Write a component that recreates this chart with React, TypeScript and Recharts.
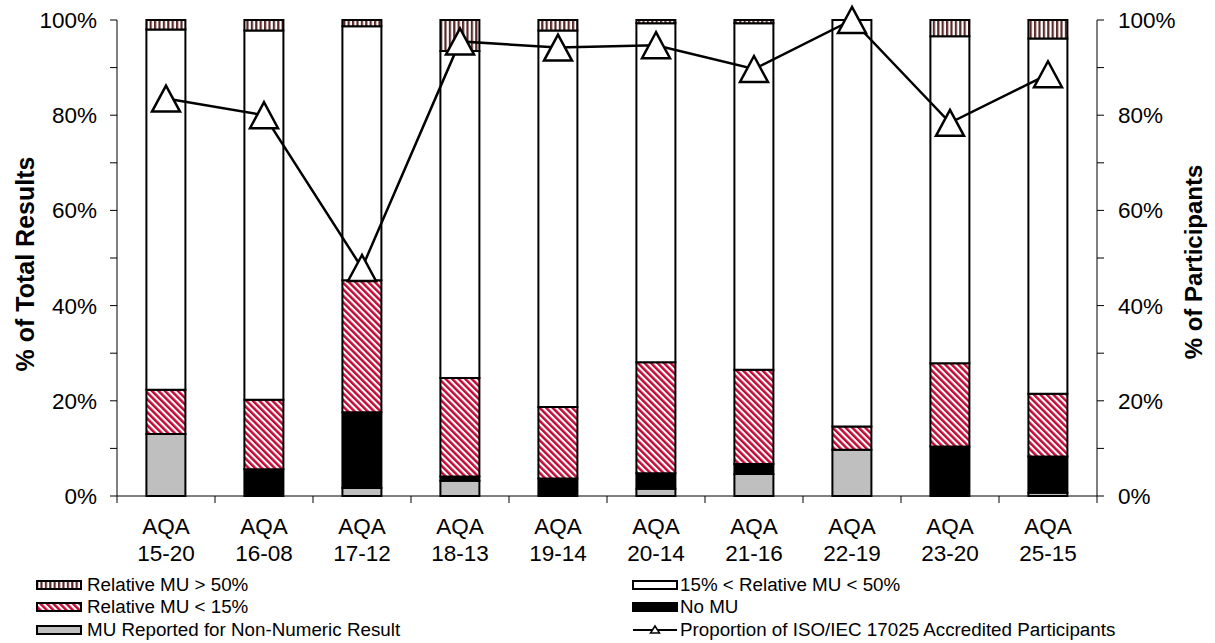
import { ComposedChart, Bar, Line, XAxis, YAxis } from 'recharts'

const categories = ['AQA 15-20', 'AQA 16-08', 'AQA 17-12', 'AQA 18-13', 'AQA 19-14', 'AQA 20-14', 'AQA 21-16', 'AQA 22-19', 'AQA 23-20', 'AQA 25-15']
const nonNumeric = [13.0, 0, 1.7, 3.2, 0, 1.5, 4.6, 9.7, 0, 0.7]
const noMu = [0, 5.6, 15.9, 0.9, 3.7, 3.3, 2.1, 0, 10.4, 7.6]
const below15 = [9.3, 14.6, 27.7, 20.7, 15.0, 23.3, 19.8, 4.9, 17.5, 13.2]
const between = [75.7, 77.6, 53.4, 68.7, 79.1, 71.2, 72.8, 85.4, 68.7, 74.6]
const above50 = [2.0, 2.2, 1.3, 6.5, 2.2, 0.7, 0.7, 0, 3.4, 3.9]
const accredited = [83.5, 80.0, 47.9, 95.5, 94.2, 94.7, 89.7, 100, 78.4, 88.6]
const yTicks = [0, 10, 20, 30, 40, 50, 60, 70, 80, 90, 100]

const FONT = '"Liberation Sans", Arial, sans-serif'

const chartData = categories.map((c, i) => ({
  cat: c,
  nonNumeric: nonNumeric[i],
  noMu: noMu[i],
  below15: below15[i],
  between: between[i],
  above50: above50[i],
  accredited: accredited[i],
}))

const pct = (v: number) => (v % 20 === 0 ? `${v}%` : '')

function XTick(props: any) {
  const { x, y, payload, index } = props
  const [a, b] = String(payload.value).split(' ')
  const half = payload.offset ?? 49
  return (
    <g>
      <line x1={x - half} x2={x - half} y1={y} y2={y + 7} stroke="#000" strokeWidth={1} />
      {index === categories.length - 1 && (
        <line x1={x + half} x2={x + half} y1={y} y2={y + 7} stroke="#000" strokeWidth={1} />
      )}
      <text x={x} y={y + 38} textAnchor="middle" fontSize={22.5} fontFamily={FONT} fill="#000">{a}</text>
      <text x={x} y={y + 65} textAnchor="middle" fontSize={22.5} fontFamily={FONT} fill="#000">{b}</text>
    </g>
  )
}

function Triangle(props: any) {
  const { cx, cy } = props
  if (cx == null || cy == null) return null
  return (
    <polygon
      points={`${cx},${cy - 13} ${cx - 14},${cy + 13} ${cx + 14},${cy + 13}`}
      fill="#fff" stroke="#000" strokeWidth={2.5} strokeLinejoin="miter"
    />
  )
}

function Swatch({ fill }: { fill: string }) {
  return (
    <svg width={46} height={12} style={{ display: 'block' }}>
      <rect x={1} y={2} width={44} height={8} fill={fill} stroke="#000" strokeWidth={2} />
    </svg>
  )
}

function LineSwatch() {
  return (
    <svg width={46} height={12} style={{ display: 'block' }}>
      <line x1={1} x2={45} y1={6} y2={6} stroke="#000" strokeWidth={2} />
      <polygon points="23,2 18.5,9 27.5,9" fill="#fff" stroke="#000" strokeWidth={1.5} />
    </svg>
  )
}

const legendLeft = [
  { label: 'Relative MU > 50%', fill: 'url(#vstripe)' },
  { label: 'Relative MU < 15%', fill: 'url(#redhatch)' },
  { label: 'MU Reported for Non-Numeric Result', fill: '#BFBFBF' },
]
const legendRight = [
  { label: '15% < Relative MU < 50%', fill: '#fff' },
  { label: 'No MU', fill: '#000' },
]
const rowTops = [575, 597, 620]

export default function App() {
  const axisTick = { fontSize: 22.5, fill: '#000', fontFamily: FONT }
  const legendRow = { position: 'absolute' as const, display: 'flex', alignItems: 'center', height: 20, fontSize: 18.8, whiteSpace: 'nowrap' as const }
  return (
    <div style={{ position: 'absolute', left: 0, top: 0, width: 1215, height: 643, background: '#fff', fontFamily: FONT }}>
      <svg width={0} height={0} style={{ position: 'absolute' }}>
        <defs>
          <pattern id="redhatch" patternUnits="userSpaceOnUse" width={4.6} height={4.6} patternTransform="rotate(-45)">
            <rect width={4.6} height={4.6} fill="#fff" />
            <rect width={2.5} height={4.6} fill="#C00A35" />
          </pattern>
          <pattern id="vstripe" patternUnits="userSpaceOnUse" width={4.4} height={10}>
            <rect width={4.4} height={10} fill="#fff" />
            <rect width={2.2} height={10} fill="#5A2A2A" />
          </pattern>
        </defs>
      </svg>
      <ComposedChart
        width={1215}
        height={643}
        data={chartData}
        margin={{ top: 20, right: 0, left: 0, bottom: 87 }}
        barCategoryGap="30%"
      >
        <XAxis
          dataKey="cat"
          interval={0}
          height={60}
          tickLine={false}
          tickSize={0}
          tickMargin={0}
          axisLine={{ stroke: '#000', strokeWidth: 1 }}
          tick={<XTick />}
        />
        <YAxis
          yAxisId="left"
          width={117}
          domain={[0, 100]}
          ticks={yTicks}
          interval={0}
          tickFormatter={pct}
          tickSize={7}
          tickMargin={13}
          tick={axisTick}
          axisLine={{ stroke: '#000', strokeWidth: 1 }}
          tickLine={{ stroke: '#000', strokeWidth: 1 }}
        />
        <YAxis
          yAxisId="right"
          orientation="right"
          width={118}
          domain={[0, 100]}
          ticks={yTicks}
          interval={0}
          tickFormatter={pct}
          tickSize={7}
          tickMargin={14}
          tick={axisTick}
          axisLine={{ stroke: '#000', strokeWidth: 1 }}
          tickLine={{ stroke: '#000', strokeWidth: 1 }}
        />
        <Bar yAxisId="left" dataKey="nonNumeric" stackId="s" fill="#BFBFBF" stroke="#000" strokeWidth={2} isAnimationActive={false} />
        <Bar yAxisId="left" dataKey="noMu" stackId="s" fill="#000" stroke="#000" strokeWidth={2} isAnimationActive={false} />
        <Bar yAxisId="left" dataKey="below15" stackId="s" fill="url(#redhatch)" stroke="#000" strokeWidth={2} isAnimationActive={false} />
        <Bar yAxisId="left" dataKey="between" stackId="s" fill="#fff" stroke="#000" strokeWidth={2} isAnimationActive={false} />
        <Bar yAxisId="left" dataKey="above50" stackId="s" fill="url(#vstripe)" stroke="#000" strokeWidth={2} isAnimationActive={false} />
        <Line
          yAxisId="right"
          dataKey="accredited"
          type="linear"
          stroke="#000"
          strokeWidth={2.5}
          dot={<Triangle />}
          activeDot={false}
          isAnimationActive={false}
        />
      </ComposedChart>

      <div style={{ position: 'absolute', left: 25, top: 264, width: 0, height: 0 }}>
        <div style={{ position: 'absolute', transform: 'translate(-50%, -50%) rotate(-90deg)', whiteSpace: 'nowrap', fontWeight: 'bold', fontSize: 25 }}>
          % of Total Results
        </div>
      </div>
      <div style={{ position: 'absolute', left: 1194, top: 262, width: 0, height: 0 }}>
        <div style={{ position: 'absolute', transform: 'translate(-50%, -50%) rotate(-90deg)', whiteSpace: 'nowrap', fontWeight: 'bold', fontSize: 24 }}>
          % of Participants
        </div>
      </div>

      {legendLeft.map((it, i) => (
        <div key={it.label} style={{ ...legendRow, left: 36, top: rowTops[i] }}>
          <Swatch fill={it.fill} />
          <span style={{ marginLeft: 5 }}>{it.label}</span>
        </div>
      ))}
      {legendRight.map((it, i) => (
        <div key={it.label} style={{ ...legendRow, left: 632, top: rowTops[i] }}>
          <Swatch fill={it.fill} />
          <span style={{ marginLeft: 2 }}>{it.label}</span>
        </div>
      ))}
      <div style={{ ...legendRow, left: 632, top: rowTops[2] }}>
        <LineSwatch />
        <span style={{ marginLeft: 2 }}>Proportion of ISO/IEC 17025 Accredited Participants</span>
      </div>
    </div>
  )
}
